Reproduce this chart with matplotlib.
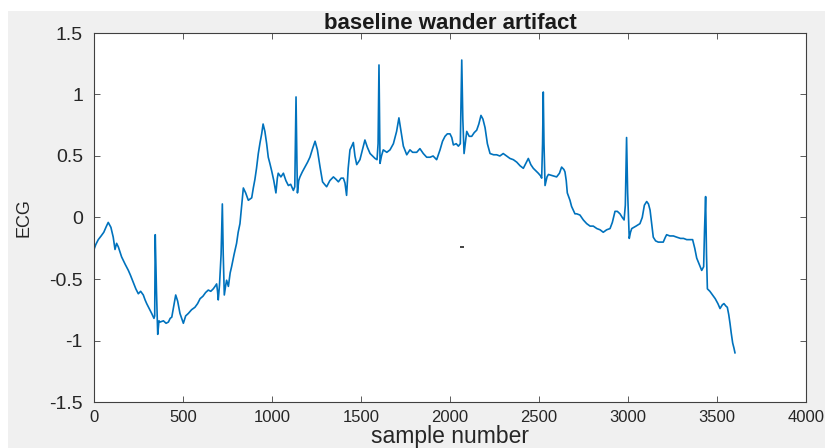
import numpy as np
import matplotlib.pyplot as plt

# ==========================================================
# DATA
# ==========================================================

samples = [
    0, 10, 24, 40, 55, 70, 80, 95, 108, 118, 127, 137, 146, 155, 175, 193,
    205, 221, 235, 249, 262, 277, 287, 296, 310, 324, 337, 341, 344, 351,
    358, 365, 371, 390, 405, 418, 428, 437, 448, 459, 470, 483, 495, 502,
    515, 530, 548, 567, 582, 596, 612, 627, 642, 656, 670, 680, 689, 694,
    698, 705, 714, 721, 726, 732, 740, 745, 755, 765, 773, 787, 801, 810,
    820, 830, 839, 852, 867, 876, 886, 895, 904, 913, 923, 933, 942, 950,
    960, 970, 979, 988, 998, 1010, 1022, 1030, 1035, 1050, 1064, 1078,
    1092, 1105, 1120, 1128, 1135, 1140, 1143, 1150, 1157, 1170, 1185, 1200,
    1213, 1228, 1242, 1255, 1270, 1284, 1295, 1307, 1325, 1345, 1360, 1373,
    1388, 1401, 1410, 1419, 1428, 1438, 1448, 1457, 1466, 1476, 1494, 1508,
    1522, 1536, 1551, 1565, 1579, 1590, 1596, 1601, 1605, 1607, 1615, 1625,
    1645, 1663, 1682, 1700, 1713, 1725, 1738, 1757, 1775, 1790, 1813, 1831,
    1850, 1869, 1888, 1905, 1925, 1944, 1958, 1972, 1985, 2000, 2010, 2019,
    2035, 2047, 2058, 2066, 2072, 2079, 2087, 2094, 2108, 2122, 2136, 2150,
    2162, 2174, 2185, 2197, 2210, 2225, 2245, 2262, 2280, 2299, 2318, 2337,
    2356, 2375, 2394, 2412, 2426, 2440, 2454, 2468, 2482, 2496, 2508, 2515,
    2520, 2524, 2528, 2534, 2545, 2553, 2575, 2599, 2615, 2627, 2640, 2646,
    2653, 2659, 2674, 2683, 2702, 2712, 2730, 2749, 2768, 2787, 2805, 2825,
    2843, 2861, 2880, 2899, 2912, 2927, 2940, 2955, 2968, 2978, 2985, 2992,
    2998, 3007, 3014, 3021, 3045, 3067, 3080, 3092, 3105, 3115, 3124, 3133,
    3142, 3155, 3170, 3185, 3198, 3210, 3217, 3235, 3255, 3274, 3295, 3312,
    3330, 3350, 3363, 3375, 3386, 3400, 3414, 3425, 3430, 3436, 3441, 3446,
    3460, 3475, 3490, 3505, 3517, 3530, 3539, 3550, 3558, 3566, 3573, 3580,
    3588, 3595, 3601,
]

ecg = [
    -0.26, -0.22, -0.18, -0.15, -0.12, -0.07, -0.04, -0.08, -0.16, -0.26,
    -0.21, -0.24, -0.28, -0.32, -0.38, -0.43, -0.47, -0.53, -0.58, -0.62,
    -0.60, -0.63, -0.67, -0.70, -0.74, -0.78, -0.82, -0.80, -0.14, -0.60,
    -0.95, -0.84, -0.85, -0.84, -0.86, -0.85, -0.82, -0.81, -0.72, -0.63,
    -0.68, -0.78, -0.83, -0.86, -0.80, -0.78, -0.75, -0.73, -0.70, -0.66,
    -0.64, -0.61, -0.59, -0.60, -0.58, -0.56, -0.54, -0.60, -0.67, -0.55,
    -0.30, 0.11, -0.30, -0.63, -0.55, -0.51, -0.56, -0.45, -0.40, -0.30,
    -0.21, -0.12, -0.05, 0.10, 0.24, 0.20, 0.14, 0.15, 0.16, 0.24,
    0.31, 0.40, 0.52, 0.61, 0.68, 0.76, 0.70, 0.60, 0.49, 0.44,
    0.38, 0.30, 0.20, 0.32, 0.36, 0.33, 0.36, 0.30, 0.26, 0.27,
    0.22, 0.25, 0.98, 0.45, 0.20, 0.30, 0.33, 0.37, 0.41, 0.45,
    0.49, 0.56, 0.62, 0.55, 0.41, 0.29, 0.27, 0.25, 0.30, 0.33,
    0.31, 0.29, 0.32, 0.32, 0.28, 0.18, 0.40, 0.55, 0.58, 0.61,
    0.50, 0.43, 0.47, 0.55, 0.63, 0.57, 0.52, 0.50, 0.48, 0.47,
    0.60, 1.24, 0.70, 0.44, 0.50, 0.55, 0.53, 0.55, 0.60, 0.70,
    0.81, 0.70, 0.58, 0.51, 0.55, 0.53, 0.53, 0.56, 0.52, 0.49,
    0.49, 0.50, 0.47, 0.55, 0.62, 0.66, 0.68, 0.68, 0.65, 0.59,
    0.60, 0.58, 0.60, 1.28, 0.80, 0.52, 0.62, 0.70, 0.66, 0.66,
    0.69, 0.71, 0.76, 0.83, 0.80, 0.73, 0.60, 0.52, 0.51, 0.51,
    0.50, 0.52, 0.50, 0.48, 0.47, 0.45, 0.42, 0.40, 0.44, 0.48,
    0.43, 0.40, 0.38, 0.36, 0.34, 0.32, 0.60, 1.02, 0.60, 0.26,
    0.33, 0.35, 0.34, 0.33, 0.36, 0.41, 0.39, 0.37, 0.30, 0.20,
    0.14, 0.09, 0.03, 0.03, 0.02, -0.02, -0.05, -0.07, -0.07, -0.09,
    -0.10, -0.12, -0.10, -0.09, -0.04, 0.05, 0.05, 0.03, 0.00, -0.02,
    0.10, 0.65, 0.20, -0.17, -0.12, -0.09, -0.07, -0.05, 0.00, 0.10,
    0.13, 0.11, 0.06, -0.05, -0.16, -0.19, -0.20, -0.20, -0.20, -0.16,
    -0.14, -0.15, -0.15, -0.16, -0.17, -0.17, -0.18, -0.18, -0.18, -0.25,
    -0.33, -0.38, -0.43, -0.40, -0.10, 0.17, -0.30, -0.58, -0.60, -0.63,
    -0.66, -0.70, -0.74, -0.71, -0.70, -0.72, -0.73, -0.79, -0.86, -0.94,
    -1.02, -1.06, -1.10,
]

# stray dark mark inside the axes
mark_x = [2067]
mark_y = [-0.24]

x_ticks = [0, 500, 1000, 1500, 2000, 2500, 3000, 3500, 4000]
y_ticks = [-1.5, -1, -0.5, 0, 0.5, 1, 1.5]
y_tick_labels = ["-1.5", "-1", "-0.5", "0", "0.5", "1", "1.5"]

# ==========================================================
# FIGURE
# ==========================================================

plt.rcParams["font.family"] = ["Liberation Sans", "DejaVu Sans"]

fig = plt.figure(figsize=(8.25, 4.48), dpi=100, facecolor="white")

# gray figure area (white strip on top and left in the reference)
fig.patches.append(
    plt.Rectangle((8 / 825, 0), 1, 1 - 11 / 448,
                  transform=fig.transFigure, facecolor="#f0f0f0",
                  edgecolor="none", zorder=-10)
)

ax = fig.add_axes([94 / 825, 1 - 402 / 448, 712 / 825, 369 / 448])
ax.set_facecolor("white")

ax.plot(samples, ecg, color="#0072BD", linewidth=1.2)
ax.plot(mark_x, mark_y, marker="_", color="#222222",
        markersize=3, markeredgewidth=1.2, linestyle="none")

ax.set_xlim(0, 4000)
ax.set_ylim(-1.5, 1.5)
ax.set_xticks(x_ticks)
ax.set_yticks(y_ticks)
ax.set_yticklabels(y_tick_labels)

ax.tick_params(direction="in", length=4, width=0.6, colors="#404040",
               labelcolor="#262626", top=True, right=True)
ax.tick_params(axis="x", pad=6, labelsize=12)
ax.tick_params(axis="y", pad=8, labelsize=14)

for side in ax.spines.values():
    side.set_color("#404040")
    side.set_linewidth(0.8)

ax.set_title("baseline wander artifact", fontsize=16,
             fontweight="bold", color="#1a1a1a", pad=3)
ax.set_xlabel("sample number", fontsize=16.5, color="#262626", labelpad=0)
ax.set_ylabel("ECG", fontsize=13, color="#262626", labelpad=12)

fig.savefig("out.png", dpi=100, facecolor=fig.get_facecolor())
